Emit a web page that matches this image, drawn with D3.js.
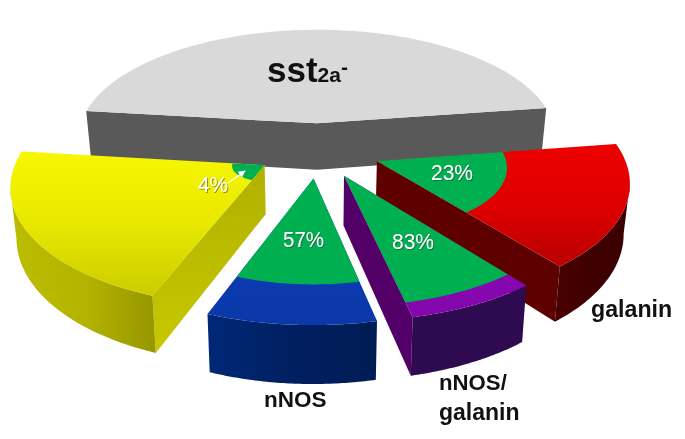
<!DOCTYPE html>
<html>
<head>
<meta charset="utf-8">
<script src="https://cdn.jsdelivr.net/npm/d3@7"></script>
<style>
html,body{margin:0;padding:0;background:#fff;}
svg{display:block;filter:blur(0.35px);}
text{font-family:"Liberation Sans",Arial,sans-serif;}
.pct{fill:#fff;font-size:22px;filter:url(#tshadow);}
.lab{fill:#111;font-weight:bold;}
</style>
</head>
<body>
<svg id="c" width="685" height="439"></svg>
<script>
// Data
const sliceNames   = ["sst2a-", "galanin", "nNOS/galanin", "nNOS", "other"];
const sliceShares  = [45.8, 16.7, 7.2, 9.2, 21.1];       // share of the pie (%)
const greenPercent = [null, 23, 83, 57, 4];              // labelled percentage
const greenRadius  = [0, 0.52, 0.91, 0.755, 0.13];       // radial reach of the green wedge
const drawOrder    = [0, 1, 4, 2, 3];

// Styles
const topFill   = ["#d9d9d9", "url(#gRedTop)", "url(#gPurpleTop)", "url(#gBlueTop)", "url(#gYellowTop)"];
const wallFill  = ["#595959", "#5f0000", "#520068", "#0a2a80", "url(#gYellowWall)"];
const outerFill = ["#595959", "url(#gRedOuter)", "#2e0a50", "url(#gBlueOuter)", "url(#gYellowOuter)"];
const explodeBy = [0.24, 0.255, 0.24, 0.24, 0.25];

// Projection of the pie plane
const cx = 318, cy = 150, R = 245, A = 115, K = 0.15, H = 48, baseShrink = 0.98;
const project = (u, v) => {
  const s = 1 / (1 - K * v);
  return { x: cx + R * u * s, y: cy + A * v * s, s };
};
const base = p => ({ x: cx + (p.x - cx) * baseShrink, y: p.y + H * p.s });

const svg = d3.select("#c");
const defs = svg.append("defs");
function grad(id, dir, stops) {
  const g = defs.append("linearGradient").attr("id", id)
    .attr("x1", 0).attr("y1", 0)
    .attr("x2", dir === "h" ? 1 : 0).attr("y2", dir === "h" ? 0 : 1);
  stops.forEach(([o, c]) => g.append("stop").attr("offset", o).attr("stop-color", c));
}
grad("gRedTop", "v", [[0, "#ee0000"], [0.55, "#dc0000"], [1, "#b80000"]]);
grad("gRedOuter", "h", [[0, "#4a0000"], [0.5, "#3e0000"], [1, "#3a0000"]]);
grad("gPurpleTop", "v", [[0, "#8a0ab8"], [1, "#8406ac"]]);
grad("gBlueTop", "v", [[0, "#0a40bc"], [1, "#0a38a8"]]);
grad("gBlueOuter", "h", [[0, "#002878"], [0.5, "#001f60"], [1, "#001c54"]]);
grad("gYellowTop", "v", [[0, "#f7f700"], [0.5, "#e8e800"], [1, "#cccc00"]]);
grad("gYellowWall", "v", [[0, "#b0b000"], [1, "#c8c800"]]);
grad("gYellowOuter", "h", [[0, "#bcbc00"], [0.5, "#b4b400"], [1, "#969600"]]);
const fl = defs.append("filter").attr("id", "tshadow").attr("x", "-20%").attr("y", "-20%").attr("width", "140%").attr("height", "140%");
fl.append("feDropShadow").attr("dx", 1).attr("dy", 1).attr("stdDeviation", 0.7).attr("flood-color", "#333").attr("flood-opacity", 0.5);
const mk = defs.append("marker").attr("id", "arrow").attr("viewBox", "0 0 10 10").attr("refX", 9).attr("refY", 5)
  .attr("markerWidth", 6).attr("markerHeight", 6).attr("orient", "auto");
mk.append("path").attr("d", "M0,0L10,5L0,10Z").attr("fill", "#fff");

const pie = d3.pie().sort(null).value(d => d)
  .startAngle(-83.3 * Math.PI / 180).endAngle((360 - 83.3) * Math.PI / 180);
const arcs = pie(sliceShares);

const line = d3.line().x(d => d.x).y(d => d.y);
const closed = pts => line(pts) + "Z";

function sector(arc, frac, e) {
  const mid = (arc.startAngle + arc.endAngle) / 2;
  const ou = e * Math.sin(mid), ov = -e * Math.cos(mid);
  const steps = d3.range(0, 61).map(i => arc.startAngle + (arc.endAngle - arc.startAngle) * i / 60);
  const rim = steps.map(t => project(ou + frac * Math.sin(t), ov - frac * Math.cos(t)));
  return { apex: project(ou, ov), rim };
}

drawOrder.forEach(i => {
  const a = arcs[i];
  const { apex, rim } = sector(a, 1, explodeBy[i]);
  const last = rim[rim.length - 1];
  const g = svg.append("g").attr("class", "slice");

  // Radial walls facing the viewer (clockwise boundary travelling leftwards)
  const walls = [];
  if (apex.x < last.x) walls.push(last, apex);
  if (rim[0].x < apex.x) { if (!walls.length) walls.push(apex); walls.push(rim[0]); }
  if (walls.length > 1) {
    g.append("path").attr("d", closed(walls.concat(walls.map(base).reverse()))).attr("fill", wallFill[i]);
  }
  // Outer curved wall, visible part only
  const front = rim.filter((p, k) =>
    (k < rim.length - 1 && rim[k + 1].x < p.x) || (k > 0 && p.x < rim[k - 1].x));
  if (front.length > 1 && i !== 0) {
    g.append("path").attr("d", closed(front.concat(front.map(base).reverse()))).attr("fill", outerFill[i]);
  }
  // Top face
  g.append("path").attr("d", closed([apex].concat(rim))).attr("fill", topFill[i]);
  // Green wedge
  if (greenRadius[i] > 0) {
    const gs = sector(a, greenRadius[i], explodeBy[i]);
    g.append("path").attr("d", closed([gs.apex].concat(gs.rim))).attr("fill", "#00b050");
  }
});

// Percent labels
const pctPos = [null, [431, 180], [392, 249], [283, 247], [198, 192]];
const pctWidth = [0, 42, 42, 41, 30];
greenPercent.forEach((p, i) => {
  if (p == null) return;
  svg.append("text").attr("class", "pct").attr("x", pctPos[i][0]).attr("y", pctPos[i][1])
    .attr("textLength", pctWidth[i]).attr("lengthAdjust", "spacingAndGlyphs").text(p + "%");
});
svg.append("line").attr("x1", 228).attr("y1", 183).attr("x2", 245).attr("y2", 171)
  .attr("stroke", "#fff").attr("stroke-width", 1.2).attr("marker-end", "url(#arrow)");

// Title
const title = svg.append("text").attr("x", 267).attr("y", 82).attr("font-weight", "bold").attr("fill", "#111");
title.append("tspan").attr("font-size", 35).text("sst");
title.append("tspan").attr("font-size", 21).text("2a");
title.append("tspan").attr("font-size", 21).attr("dy", -8).text("-");

// Category labels
[["galanin", 591, 317, 23.2], ["nNOS", 264, 407, 22.5], ["nNOS/", 439, 390, 22.2], ["galanin", 439, 420, 23]].forEach(([t, x, y, fs]) => {
  svg.append("text").attr("class", "lab").attr("x", x).attr("y", y).attr("font-size", fs).text(t);
});
</script>
</body>
</html>
